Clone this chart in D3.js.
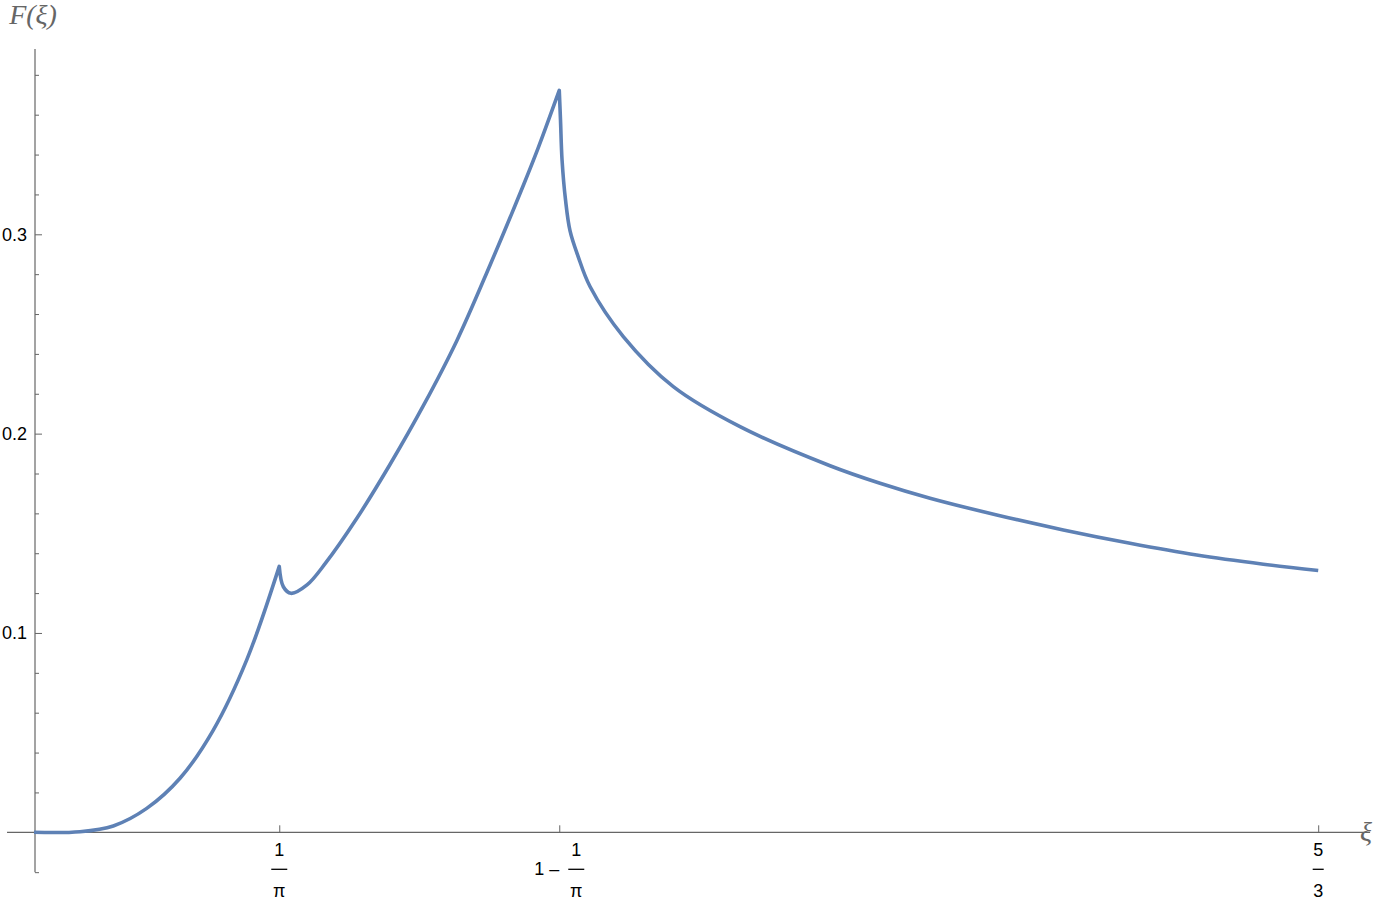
<!DOCTYPE html>
<html>
<head>
<meta charset="utf-8">
<script src="https://cdn.jsdelivr.net/npm/d3@7"></script>
<style>
  body { margin: 0; background: #fff; }
  svg { display: block; }
</style>
</head>
<body>
<div id="chart"></div>
<script>
// values, split at the two cusps (1/pi and 1-1/pi)
var xiRise = [0, 0.0597, 0.1029, 0.1463, 0.1895, 0.2327, 0.2761, 0.3183];
var fRise  = [0, 0.0003, 0.0032, 0.0120, 0.0271, 0.0513, 0.0865, 0.1334];

var xiMid = [0.3183, 0.3236, 0.3335, 0.3543, 0.3783, 0.4188, 0.4620, 0.5053, 0.5486, 0.5918, 0.6350, 0.6545, 0.6817];
var fMid  = [0.1334, 0.1232, 0.1199, 0.1241, 0.1350, 0.1574, 0.1845, 0.2140, 0.2465, 0.2845, 0.3245, 0.3435, 0.3722];

var xiTail = [0.6817, 0.6833, 0.6853, 0.6898, 0.6957, 0.7060, 0.7216, 0.7648, 0.8297, 0.9163,
              1.0331, 1.0980, 1.1629, 1.2495, 1.3359, 1.4225, 1.5090, 1.5955, 1.6667];
var fTail  = [0.3722, 0.3574, 0.3374, 0.3173, 0.3017, 0.2891, 0.2738, 0.2487, 0.2236, 0.2035,
              0.1839, 0.1751, 0.1676, 0.1592, 0.1517, 0.1450, 0.1391, 0.1345, 0.1313];

// ticks
var xTickValues = [1 / Math.PI, 1 - 1 / Math.PI, 5 / 3];
var xTickNum    = ["1", "1", "5"];
var xTickDen    = ["π", "π", "3"];
var xTickPre    = ["", "1 \u2013", ""];
var yMajorTicks = [0.1, 0.2, 0.3];
var yMinorTicks = [-0.02, 0.02, 0.04, 0.06, 0.08, 0.12, 0.14, 0.16, 0.18,
                   0.22, 0.24, 0.26, 0.28, 0.32, 0.34, 0.36, 0.38];

var width = 1376, height = 902,
    lineColor = "#5e81b5",
    axisColor = "#666666",
    labelFont = "'Liberation Sans', Arial, sans-serif",
    titleFont = "'Liberation Serif', 'Times New Roman', serif";

var svg = d3.select("#chart").append("svg")
    .attr("width", width)
    .attr("height", height);

var x = d3.scaleLinear().domain([0, 5 / 3]).range([34, 1318.2]);
var y = d3.scaleLinear().domain([0, 0.3]).range([832.3, 234.3]);

var x0 = x(0), y0 = y(0);

//axis lines (plot range runs a bit past the data)
svg.append("line")
    .attr("x1", x(-0.035)).attr("x2", x(1.734))
    .attr("y1", y0).attr("y2", y0)
    .attr("stroke", axisColor).attr("stroke-width", 1.2);

svg.append("line")
    .attr("x1", x0 + 1).attr("x2", x0 + 1)
    .attr("y1", y(-0.02)).attr("y2", y(0.393))
    .attr("stroke", axisColor).attr("stroke-width", 1.2);

//y ticks point inward, labels on the left
var yMajor = svg.append("g")
    .attr("transform", "translate(" + (x0 + 1) + ",0)")
    .call(d3.axisLeft(y).tickValues(yMajorTicks).tickSize(-7).tickPadding(8)
        .tickFormat(d3.format(".1f")));

var yMinor = svg.append("g")
    .attr("transform", "translate(" + (x0 + 1) + ",0)")
    .call(d3.axisLeft(y).tickValues(yMinorTicks).tickSize(-4).tickFormat(""));

[yMajor, yMinor].forEach(function(g){
    g.select(".domain").remove();
    g.selectAll("line").attr("stroke", axisColor).attr("stroke-width", 1);
    g.selectAll("text")
        .attr("fill", "#000")
        .style("font-family", labelFont)
        .style("font-size", "18px");
});

//x ticks, drawn upward with fraction labels
var xTicks = svg.append("g")
    .attr("transform", "translate(0," + y0 + ")")
    .call(d3.axisBottom(x).tickValues(xTickValues).tickSize(-7).tickFormat(""));
xTicks.select(".domain").remove();
xTicks.selectAll("line").attr("stroke", axisColor).attr("stroke-width", 1);

xTickValues.forEach(function(v, i){
    var g = svg.append("g").style("font-family", labelFont).style("font-size", "18px");

    var pre = g.append("text").attr("y", y0 + 43).text(xTickPre[i]);
    var preW = xTickPre[i] ? pre.node().getComputedTextLength() + 9 : 0;

    var num = g.append("text").attr("y", y0 + 24).attr("text-anchor", "middle").text(xTickNum[i]);
    var den = g.append("text").attr("y", y0 + 65).attr("text-anchor", "middle").text(xTickDen[i]);
    var barW = xTickDen[i] === "π" ? 16 :
        Math.max(num.node().getComputedTextLength(), den.node().getComputedTextLength()) + 1;

    // centre the whole label under the tick
    var left = x(v) - (preW + barW) / 2;
    pre.attr("x", left);
    var cx = left + preW + barW / 2;
    num.attr("x", cx);
    den.attr("x", cx);
    g.append("line")
        .attr("x1", cx - barW / 2).attr("x2", cx + barW / 2)
        .attr("y1", y0 + 37).attr("y2", y0 + 37)
        .attr("stroke", "#000").attr("stroke-width", 1.3);
});

//axis labels
svg.append("text")
    .attr("x", x0 - 1).attr("y", 24)
    .attr("text-anchor", "middle")
    .attr("fill", "#666")
    .style("font-family", titleFont)
    .style("font-style", "italic")
    .style("font-size", "28px")
    .text("F(ξ)");

svg.append("text")
    .attr("x", x(1.734) - 10).attr("y", y0 + 9)
    .attr("fill", "#666")
    .style("font-family", titleFont)
    .style("font-style", "italic")
    .style("font-size", "28px")
    .text("ξ");

//curve: three smooth pieces joined into one path so the cusps stay sharp
var line = d3.line()
    .x(function(d){ return x(d[0]); })
    .y(function(d){ return y(d[1]); })
    .curve(d3.curveCatmullRom.alpha(0.5));

var pieces = [d3.zip(xiRise, fRise), d3.zip(xiMid, fMid), d3.zip(xiTail, fTail)];
var pathD = pieces.map(function(p, i){
    var s = line(p);
    return i === 0 ? s : "L" + s.slice(1);
}).join("");

svg.append("path")
    .attr("d", pathD)
    .attr("fill", "none")
    .attr("stroke", lineColor)
    .attr("stroke-width", 3.6)
    .attr("stroke-linejoin", "round");
</script>
</body>
</html>
